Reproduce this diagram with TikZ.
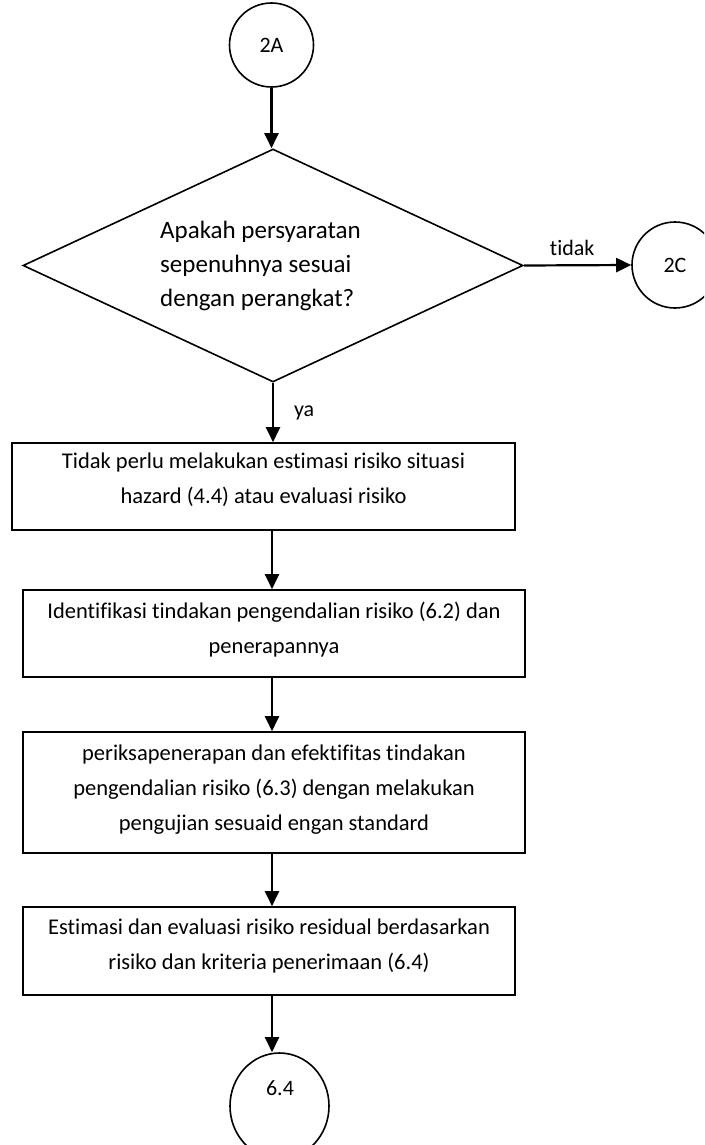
\documentclass[tikz,border=0pt]{standalone}
\usepackage{fontspec}
\setmainfont{Carlito}[Ligatures={NoCommon,NoContextual}]
\usetikzlibrary{shapes.geometric,arrows.meta,calc}
\begin{document}
\begin{tikzpicture}[x=1pt,y=-1pt,
  shp/.style={draw,line width=1.6pt,inner sep=0pt},
  arr/.style={line width=2.2pt,-{Triangle[length=15pt,width=14pt]}},
  boxtxt/.style={font=\fontsize{22.5}{35}\selectfont,align=center,inner sep=0pt},
  lbl/.style={font=\fontsize{22}{26}\selectfont,inner sep=0pt}]
\useasboundingbox (0,0) rectangle (704,1145);
\clip (0,0) rectangle (704,1145);
\coordinate (col) at (272,0);
% connectors' end shapes
\node[shp,circle,minimum size=84pt,lbl] (c2a) at (271.5,45) {2A};
\node[shp,diamond,minimum width=500pt,minimum height=233pt] (dec) at (273,265.5) {};
\node[font=\fontsize{25}{34}\selectfont,align=left,anchor=west,inner sep=0pt] (dect) at (160,266) {Apakah persyaratan\\sepenuhnya sesuai\\dengan perangkat?};
\node[shp,circle,minimum size=86pt,lbl] (c2c) at (675,265) {2C};
% boxes
\node[shp,rectangle,minimum width=503pt,minimum height=87pt] (b1) at (263.5,486.5) {};
\node[boxtxt] (t1) at (263.5,480) {Tidak perlu melakukan estimasi risiko situasi\\hazard (4.4) atau evaluasi risiko};
\node[shp,rectangle,minimum width=502pt,minimum height=87pt] (b2) at (274,633.5) {};
\node[boxtxt] (t2) at (274,630) {Identifikasi tindakan pengendalian risiko (6.2) dan\\penerapannya};
\node[shp,rectangle,minimum width=502pt,minimum height=121pt] (b3) at (274,792.5) {};
\node[boxtxt] (t3) at (274,790) {periksapenerapan dan efektifitas tindakan\\pengendalian risiko (6.3) dengan melakukan\\pengujian sesuaid engan standard};
\node[shp,rectangle,minimum width=492pt,minimum height=88pt] (b4) at (269,951) {};
\node[boxtxt] (t4) at (269,945.5) {Estimasi dan evaluasi risiko residual berdasarkan\\risiko dan kriteria penerimaan (6.4)};
\node[shp,ellipse,minimum width=99pt,minimum height=106pt] (c64) at (279.5,1106) {};
\node[lbl] (t64) at (280,1088) {6.4};
% connectors
\draw[arr] (c2a.south) -- (c2a.south |- dec.north);
\draw[arr] (dec.east) -- (c2c.west) node[lbl,pos=0.45,above=9pt] (ltidak) {tidak};
\draw[arr] (dec.south) -- (dec.south |- b1.north) node[lbl,midway,right=20pt] (lya) {ya};
\draw[arr] (b1.south -| col) -- (b2.north -| col);
\draw[arr] (b2.south -| col) -- (b3.north -| col);
\draw[arr] (b3.south -| col) -- (b4.north -| col);
\draw[arr] (b4.south -| col) -- (col |- c64.north);
\end{tikzpicture}
\end{document}
